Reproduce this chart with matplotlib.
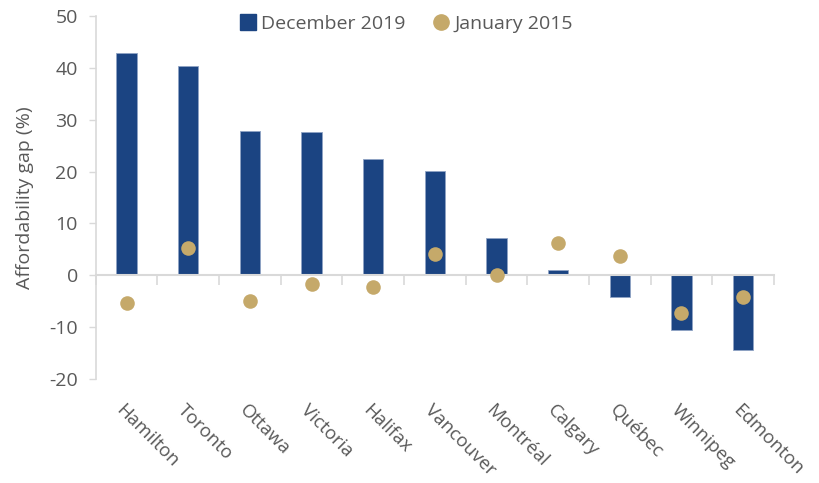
import matplotlib.pyplot as plt
from matplotlib.lines import Line2D
from matplotlib.transforms import blended_transform_factory
import numpy as np

plt.rcParams['font.family'] = ['Open Sans', 'DejaVu Sans']
plt.rcParams['axes.unicode_minus'] = False

cities = ['Hamilton', 'Toronto', 'Ottawa', 'Victoria', 'Halifax', 'Vancouver',
          'Montréal', 'Calgary', 'Québec', 'Winnipeg', 'Edmonton']
dec_2019 = [42.9, 40.3, 27.9, 27.6, 22.4, 20.1, 7.3, 1.0, -4.1, -10.6, -14.3]
jan_2015 = [-5.4, 5.2, -5.0, -1.7, -2.2, 4.2, 0.1, 6.3, 3.8, -7.3, -4.2]

bar_color = '#1B4482'
dot_color = '#C5A96A'
grey = '#D9D9D9'
text_color = '#595959'
fs = 14

fig = plt.figure(figsize=(8.19, 4.83), dpi=100)
ax = fig.add_axes([0.117, 0.215, 0.828, 0.752])

x = np.arange(len(cities))
ax.bar(x, dec_2019, width=0.33, color=bar_color, edgecolor='#8FA3C4', linewidth=0.6, zorder=2)
ax.scatter(x, jan_2015, s=110, color=dot_color, zorder=3, linewidths=0)

ax.set_xlim(-0.5, len(cities) - 0.5)
ax.set_ylim(-20, 50)
ax.set_yticks(range(-20, 51, 10))
ax.tick_params(axis='y', colors=grey, labelcolor=text_color, labelsize=fs,
               length=5, width=1, pad=8)

for s in ['top', 'right']:
    ax.spines[s].set_visible(False)
ax.spines['left'].set_color(grey)
ax.spines['left'].set_linewidth(1.2)
ax.spines['bottom'].set_position(('data', 0))
ax.spines['bottom'].set_color(grey)
ax.spines['bottom'].set_linewidth(1.5)

ax.set_xticks(np.arange(-0.5, len(cities), 1))
ax.tick_params(axis='x', colors=grey, length=7, width=1.2, labelbottom=False)

trans = blended_transform_factory(ax.transData, ax.transAxes)
for i, c in enumerate(cities):
    ax.text(i - 0.02, -0.06, c, transform=trans, rotation=-45, rotation_mode='anchor',
            ha='left', va='top', fontsize=13.5, color=text_color)

ax.set_ylabel('Affordability gap (%)', fontsize=fs, color=text_color, labelpad=11)

handles = [Line2D([], [], marker='s', linestyle='none', markersize=12, color=bar_color),
           Line2D([], [], marker='o', linestyle='none', markersize=11, color=dot_color)]
fig.legend(handles, ['December 2019', 'January 2015'], loc='center', ncol=2,
           bbox_to_anchor=(0.495, 0.95), frameon=False, fontsize=fs,
           labelcolor=text_color, handletextpad=0.2, columnspacing=1.3, handlelength=1.0)

fig.savefig('out.png', dpi=100)
